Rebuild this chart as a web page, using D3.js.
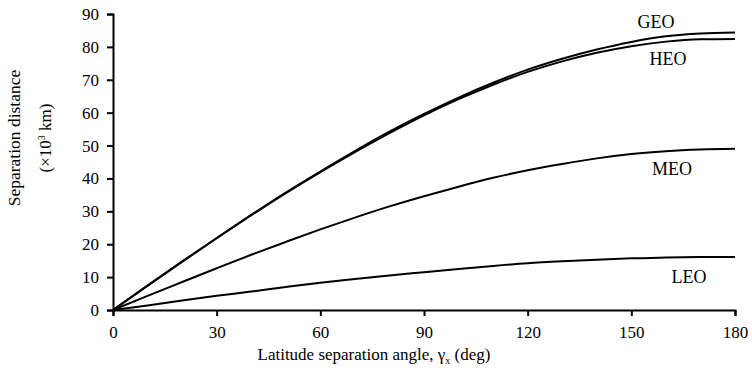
<!DOCTYPE html>
<html>
<head>
<meta charset="utf-8">
<script src="https://cdn.jsdelivr.net/npm/d3@7"></script>
<style>
  body { margin: 0; background: #fff; }
  svg text { font-family: "Liberation Serif", "Times New Roman", serif; fill: #000; }
</style>
</head>
<body>
<div id="chart"></div>
<script>
// latitude separation angle (deg)
var angles = [0, 10, 20, 30, 40, 50, 60, 70, 80, 90, 100, 110, 120, 130, 140, 150, 160, 170, 180];
// separation distance (x10^3 km)
var geo = [0, 7.4, 14.7, 21.9, 28.9, 35.7, 42.1, 48.3, 54.2, 59.6, 64.6, 69.1, 73.1, 76.4, 79.2, 81.5, 83.2, 84.1, 84.4];
var heo = [0, 7.4, 14.7, 21.8, 28.8, 35.5, 41.9, 48.0, 53.8, 59.2, 64.1, 68.5, 72.4, 75.6, 78.2, 80.2, 81.6, 82.3, 82.4];
var meo = [0, 4.3, 8.5, 12.7, 16.8, 20.7, 24.5, 28.1, 31.5, 34.6, 37.5, 40.2, 42.5, 44.4, 46.1, 47.4, 48.3, 48.8, 49.0];
var leo = [0, 1.4, 2.9, 4.3, 5.6, 7.0, 8.3, 9.4, 10.5, 11.5, 12.5, 13.4, 14.2, 14.8, 15.3, 15.7, 16.0, 16.1, 16.1];
var xTicks = [0, 30, 60, 90, 120, 150, 180];
var yTicks = [0, 10, 20, 30, 40, 50, 60, 70, 80, 90];

var series = [
  {name: 'GEO', values: geo, lx: 656, ly: 28},
  {name: 'HEO', values: heo, lx: 668, ly: 65},
  {name: 'MEO', values: meo, lx: 672, ly: 175},
  {name: 'LEO', values: leo, lx: 689, ly: 283}
];

var margin = {top: 14, right: 17, bottom: 70, left: 113},
    width = 752 - margin.left - margin.right,
    height = 380 - margin.top - margin.bottom;

var svg = d3.select('#chart').append('svg')
    .attr('width', 752)
    .attr('height', 380)
  .append('g')
    .attr('transform', 'translate(' + margin.left + ',' + margin.top + ')');

var x = d3.scaleLinear().domain([0, 180]).range([0, width]);
var y = d3.scaleLinear().domain([0, 90]).range([height, 0]);

var line = d3.line()
    .x(function(d, i) { return x(angles[i]); })
    .y(function(d) { return y(d); })
    .curve(d3.curveMonotoneX);

svg.selectAll('path.curve')
    .data(series)
  .enter().append('path')
    .attr('class', 'curve')
    .attr('d', function(d) { return line(d.values); })
    .attr('fill', 'none')
    .attr('stroke', '#000')
    .attr('stroke-width', 2);

svg.selectAll('text.lbl')
    .data(series)
  .enter().append('text')
    .attr('class', 'lbl')
    .attr('x', function(d) { return d.lx - margin.left; })
    .attr('y', function(d) { return d.ly - margin.top; })
    .attr('text-anchor', 'middle')
    .attr('font-size', '18px')
    .text(function(d) { return d.name; });

// axes
var xAxis = d3.axisBottom(x).tickValues(xTicks).tickSize(6).tickPadding(10);
var yAxis = d3.axisLeft(y).tickValues(yTicks).tickSize(6).tickPadding(8);

var gx = svg.append('g')
    .attr('transform', 'translate(0,' + height + ')')
    .call(xAxis);
var gy = svg.append('g').call(yAxis);

[gx, gy].forEach(function(g) {
  g.select('.domain').attr('stroke', '#000').attr('stroke-width', 2);
  g.selectAll('.tick line').attr('stroke', '#000').attr('stroke-width', 2);
  g.selectAll('text')
    .attr('font-family', '"Liberation Serif", serif')
    .attr('font-size', '17px')
    .attr('fill', '#000');
});

// axis titles
svg.append('text')
    .attr('x', width / 2 - 50)
    .attr('y', height + 50)
    .attr('text-anchor', 'middle')
    .attr('font-size', '17px')
    .html('Latitude separation angle, γ<tspan font-size="10px" dy="4">x</tspan><tspan dy="-4"> (deg)</tspan>');

svg.append('text')
    .attr('transform', 'translate(' + (20 - margin.left) + ',' + 124 + ') rotate(-90)')
    .attr('text-anchor', 'middle')
    .attr('font-size', '17.5px')
    .text('Separation distance');

svg.append('text')
    .attr('transform', 'translate(' + (51 - margin.left) + ',' + 124 + ') rotate(-90)')
    .attr('text-anchor', 'middle')
    .attr('font-size', '17px')
    .html('(×10<tspan font-size="10px" dy="-6">3</tspan><tspan dy="6"> km)</tspan>');
</script>
</body>
</html>
